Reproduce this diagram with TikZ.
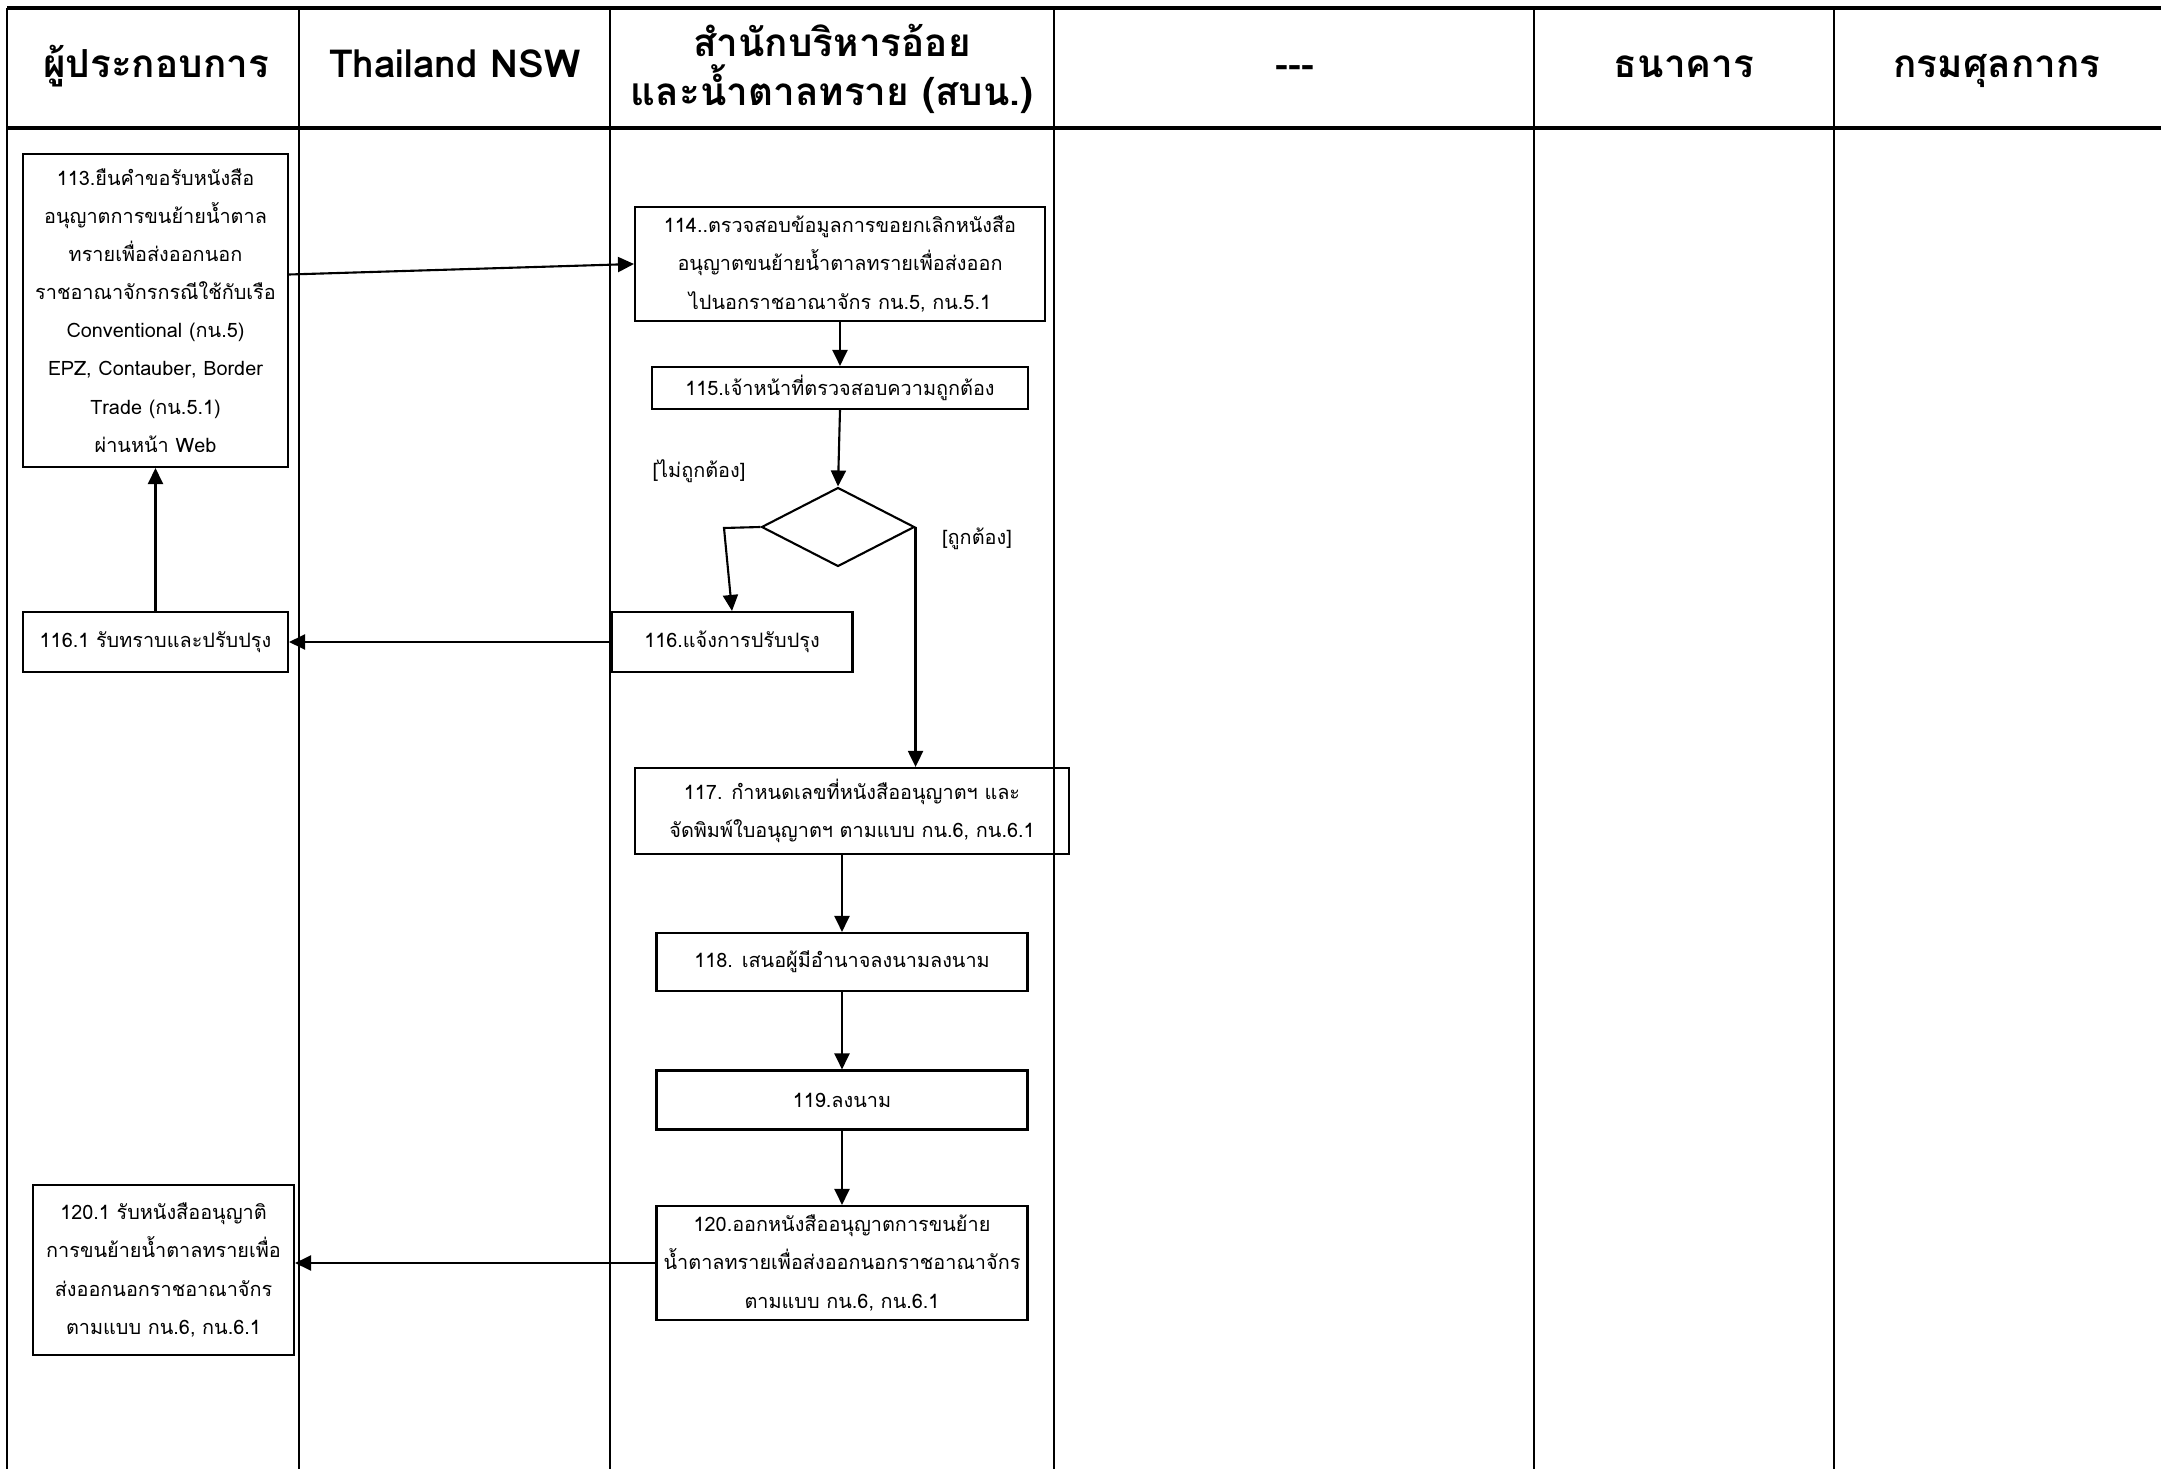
\documentclass[tikz,border=0pt]{standalone}
\usepackage{fontspec}
\setmainfont{Loma}[Script=Thai]
\usepackage{tikz}
\usetikzlibrary{shapes.geometric, arrows.meta, positioning, calc}

\begin{document}
\begin{tikzpicture}[
    x=0.02cm, y=-0.02cm,
    lane/.style={line width=1pt},
    headline/.style={line width=1.8pt},
    header/.style={font=\fontsize{22}{28}\selectfont\bfseries, align=center},
    box/.style={draw, line width=1.2pt, align=center, inner sep=2pt, font=\fontsize{11.3}{21.7}\selectfont},
    decision/.style={diamond, draw, line width=1.2pt, inner sep=0pt, minimum width=3.06cm, minimum height=1.58cm},
    lbl/.style={font=\fontsize{11.3}{14}\selectfont},
    arr/.style={line width=1.2pt, -{Triangle[length=3.2mm, width=3mm]}}
]
    \useasboundingbox (0,0) rectangle (2161,1469);

    % Lanes
    \draw[headline] (7,8) -- (2161,8);
    \draw[headline] (7,128) -- (2161,128);
    \draw[lane] (7,8) -- (7,1469);
    \foreach \lx in {299, 610, 1054, 1534, 1834}
        \draw[lane] (\lx,8) -- (\lx,1469);

    % Headers
    \node[header, anchor=base] (hdop) at (156,78) {ผู้ประกอบการ};
    \node[header, anchor=base] (hdnsw) at (455,78) {Thailand NSW};
    \node[header] (hdocsb) at (832,69) {สำนักบริหารอ้อย\\และน้ำตาลทราย (สบน.)};
    \node[header, anchor=base] (hdnone) at (1295,78) {-{}-{}-};
    \node[header, anchor=base] (hdbank) at (1684,78) {ธนาคาร};
    \node[header, anchor=base] (hdcust) at (1997,78) {กรมศุลกากร};

    % Steps of the operator
    \node[box, minimum width=5.3cm, minimum height=6.26cm] (b113) at (155.5,310.5)
        {113.ยืนคำขอรับหนังสือ\\อนุญาตการขนย้ายน้ำตาล\\ทรายเพื่อส่งออกนอก\\ราชอาณาจักรกรณีใช้กับเรือ\\Conventional (กน.5)\\EPZ, Contauber, Border\\Trade (กน.5.1)\\ผ่านหน้า Web};
    \node[box, minimum width=5.3cm, minimum height=1.2cm] (b1161) at (155.5,642) {116.1 รับทราบและปรับปรุง};
    \node[box, minimum width=5.22cm, minimum height=3.4cm] (b1201) at (163.5,1270)
        {120.1 รับหนังสืออนุญาติ\\การขนย้ายน้ำตาลทรายเพื่อ\\ส่งออกนอกราชอาณาจักร\\ตามแบบ กน.6, กน.6.1};

    % Steps of the office
    \node[box, minimum width=8.2cm, minimum height=2.28cm] (b114) at (840,264)
        {114..ตรวจสอบข้อมูลการขอยกเลิกหนังสือ\\อนุญาตขนย้ายน้ำตาลทรายเพื่อส่งออก\\ไปนอกราชอาณาจักร กน.5, กน.5.1};
    \node[box, minimum width=7.52cm, minimum height=0.84cm] (b115) at (840,388) {115.เจ้าหน้าที่ตรวจสอบความถูกต้อง};
    \node[decision] (dia) at (838,527) {};
    \node[lbl] (lblno) at (699,471) {[ไม่ถูกต้อง]};
    \node[lbl] (lblyes) at (977,539) {[ถูกต้อง]};
    \node[box, minimum width=4.82cm, minimum height=1.2cm] (b116) at (732,642) {116.แจ้งการปรับปรุง};
    \node[box, minimum width=8.68cm, minimum height=1.72cm] (b117) at (852,811)
        {117. กำหนดเลขที่หนังสืออนุญาตฯ และ\\จัดพิมพ์ใบอนุญาตฯ ตามแบบ กน.6, กน.6.1};
    \node[box, minimum width=7.42cm, minimum height=1.16cm] (b118) at (842,962) {118. เสนอผู้มีอำนาจลงนามลงนาม};
    \node[box, minimum width=7.42cm, minimum height=1.18cm] (b119) at (842,1100) {119.ลงนาม};
    \node[box, minimum width=7.42cm, minimum height=2.28cm] (b120) at (842,1263)
        {120.ออกหนังสืออนุญาตการขนย้าย\\น้ำตาลทรายเพื่อส่งออกนอกราชอาณาจักร\\ตามแบบ กน.6, กน.6.1};
    \coordinate (nobend) at (724,528);

    % Connections
    \draw[arr] ([yshift=7.2mm]b113.east) -- (b114.west);
    \draw[arr] (b114.south) -- (b115.north);
    \draw[arr] (b115.south) -- (dia.north);
    \draw[arr] (dia.west) -- (nobend) -- (b116.north);
    \draw[arr] (dia.east) -- (dia.east |- b117.north);
    \draw[arr] (b116.west) -- (b1161.east);
    \draw[arr] (b1161.north) -- (b113.south);
    \draw[arr] (b118.north |- b117.south) -- (b118.north);
    \draw[arr] (b118.south) -- (b119.north);
    \draw[arr] (b119.south) -- (b120.north);
    \draw[arr] (b120.west) -- (b120.west -| b1201.east);
\end{tikzpicture}
\end{document}
